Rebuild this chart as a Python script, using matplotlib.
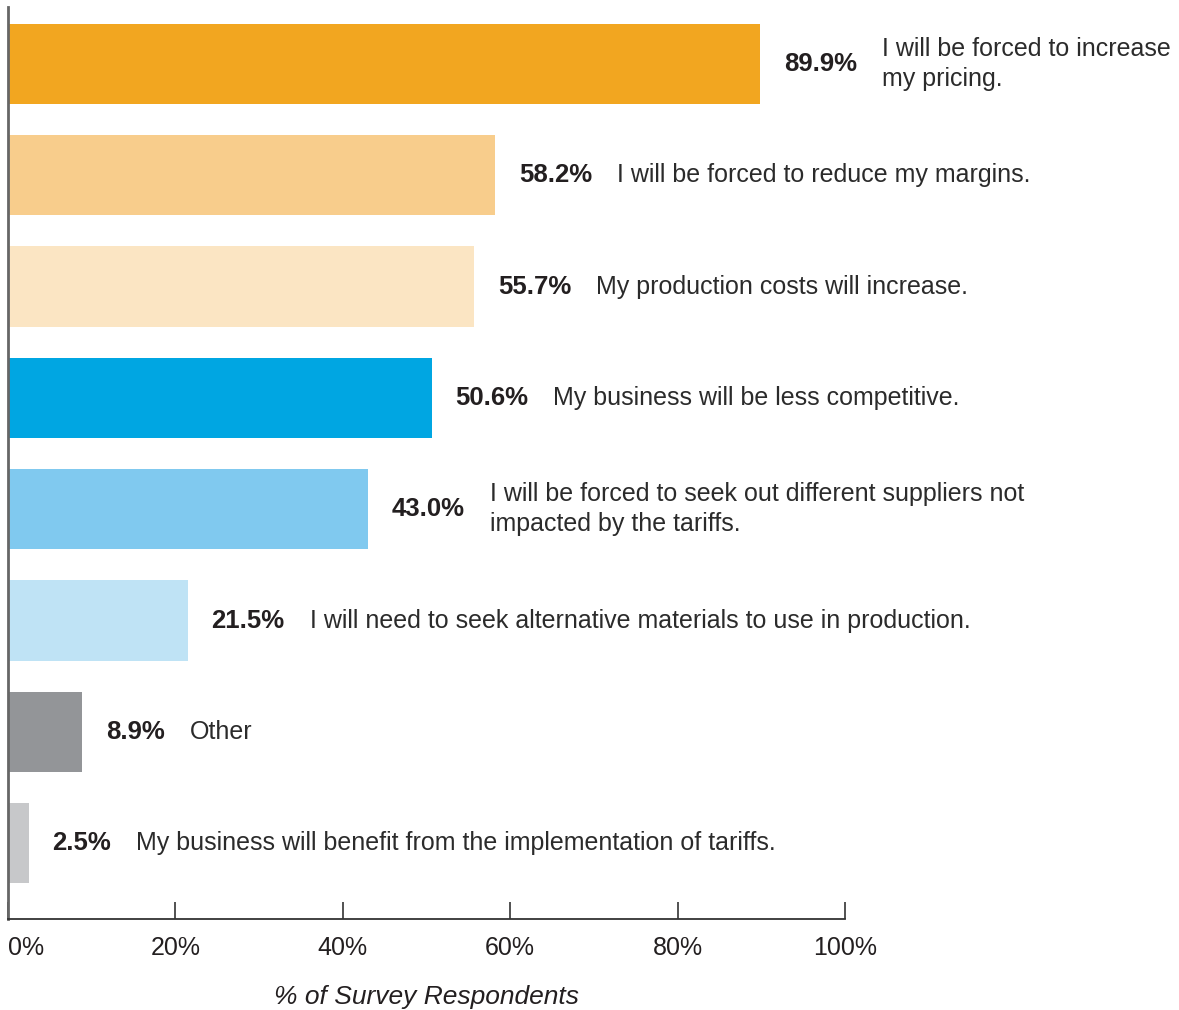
import matplotlib.pyplot as plt

# survey answers, top to bottom
values = [89.9, 58.2, 55.7, 50.6, 43.0, 21.5, 8.9, 2.5]
descriptions = [
    "I will be forced to increase\nmy pricing.",
    "I will be forced to reduce my margins.",
    "My production costs will increase.",
    "My business will be less competitive.",
    "I will be forced to seek out different suppliers not\nimpacted by the tariffs.",
    "I will need to seek alternative materials to use in production.",
    "Other",
    "My business will benefit from the implementation of tariffs.",
]
colors = ["#F2A620", "#F8CD8C", "#FBE5C3", "#00A6E2",
          "#80C9EF", "#BFE3F5", "#939598", "#C7C8CA"]
xticks = [0, 20, 40, 60, 80, 100]
xtick_labels = ["0%", "20%", "40%", "60%", "80%", "100%"]

plt.rcParams['font.family'] = ['Liberation Sans', 'DejaVu Sans']

fig = plt.figure(figsize=(11.79, 10.10), dpi=100)
ax = fig.add_axes([8/1179, 91/1010, 837/1179, 912/1010])

pos = list(range(len(values)))
ax.barh(pos, values, height=0.72, color=colors)

for i, (v, d) in enumerate(zip(values, descriptions)):
    t = ax.annotate(f"{v:.1f}%", xy=(v, i), xytext=(17, 0),
                    textcoords='offset points', ha='left', va='center',
                    fontsize=18.5, fontweight='bold', color='#231F20')
    ax.annotate(d, xy=(1, 0.5), xycoords=t, xytext=(18, 0),
                textcoords='offset points', ha='left', va='center',
                fontsize=18, color='#2b2b2b', linespacing=1.3,
                annotation_clip=False)

ax.set_xlim(0, 100)
ax.set_ylim(7.68, -0.51)
ax.set_yticks([])
ax.set_xticks(xticks)
ax.set_xticklabels(xtick_labels, fontsize=18, color='#231F20')
ax.get_xticklabels()[0].set_horizontalalignment('left')
ax.tick_params(axis='x', direction='in', length=12, width=1.2,
               color='#333333', pad=12)

for s in ['top', 'right']:
    ax.spines[s].set_visible(False)
ax.spines['left'].set_color('#666666')
ax.spines['left'].set_linewidth(2)
ax.spines['bottom'].set_color('#333333')
ax.spines['bottom'].set_linewidth(1.3)

ax.set_xlabel("% of Survey Respondents", style='italic',
              fontsize=19, color='#231F20')
ax.xaxis.set_label_coords(0.5, -0.0855)
ax.xaxis.label.set_va('center')

fig.savefig("out.png", dpi=100)
